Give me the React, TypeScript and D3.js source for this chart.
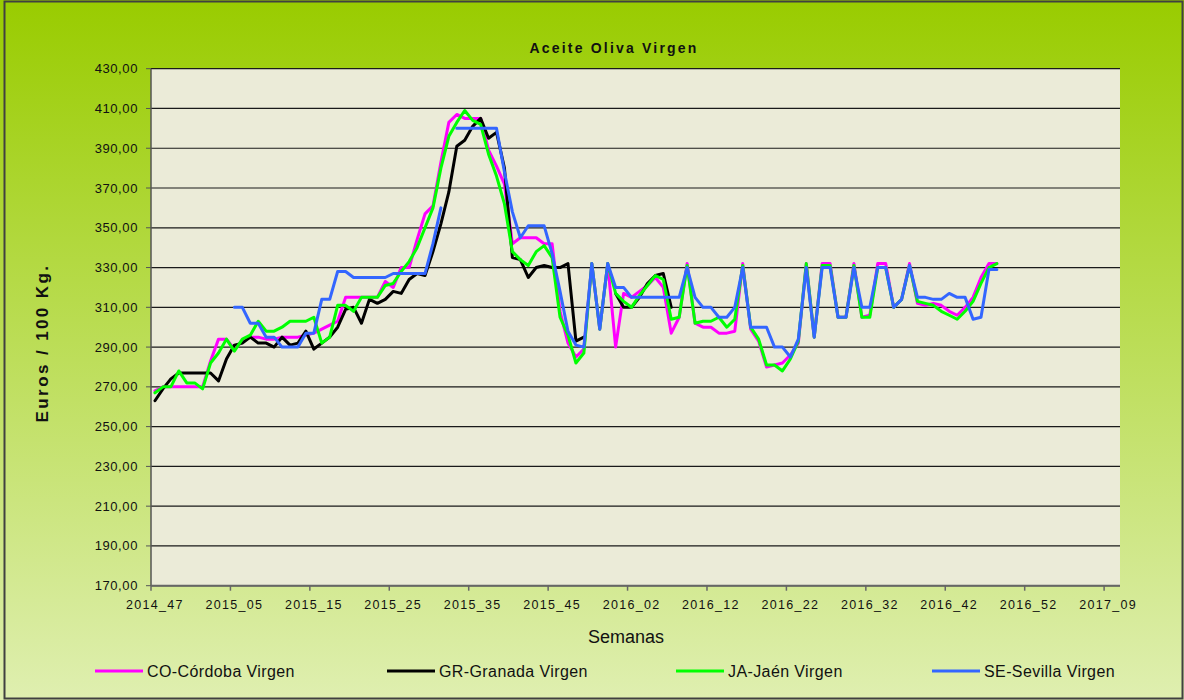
import React from 'react';
import * as d3 from 'd3';

// ---------- data ----------
const weekLabels = [
  '2014_47', '2015_05', '2015_15', '2015_25', '2015_35', '2015_45', '2016_02',
  '2016_12', '2016_22', '2016_32', '2016_42', '2016_52', '2017_09',
];
const categoryCount = 122;
const yTickValues = [170, 190, 210, 230, 250, 270, 290, 310, 330, 350, 370, 390, 410, 430];

const N = null;
const cordoba: (number | null)[] = [
  268, 270, 270, 270, 270, 270, 270, 283, 294, 294,
  289, 293, 295, 295, 294, 294, 295, 295, 295, 296,
  297, 299, 301, 303, 315, 315, 315, 315, 315, 323,
  320, 330, 330, 344, 357, 361, 383, 403, 407, 405,
  405, 405, 389, 381, 372, 342, 345, 345, 345, 342,
  342, 308, 292, 285, 289, 332, 299, 332, 290, 317,
  315, 318, 321, 325, 320, 297, 305, 332, 302, 300,
  300, 297, 297, 298, 332, 299, 293, 280, 281, 282,
  286, 292, 332, 295, 332, 332, 305, 305, 332, 305,
  306, 332, 332, 310, 314, 332, 312, 311, 312, 311,
  308, 306, 310, 315, 325, 332, 332,
];
const granada: (number | null)[] = [
  263, 269, 274, 277, 277, 277, 277, 277, 273, 284,
  291, 292, 295, 292, 292, 290, 295, 291, 292, 298,
  289, 292, 295, 300, 309, 310, 302, 314, 312, 314,
  318, 317, 324, 327, 326, 338, 352, 368, 391, 394,
  401, 405, 395, 398, 380, 335, 334, 325, 330, 331,
  330, 330, 332, 293, 295, N, N, N, 317, 310,
  310, 315, 322, 326, 327, 310,
];
const jaen: (number | null)[] = [
  267, 270, 270, 278, 272, 272, 269, 282, 287, 294,
  288, 294, 296, 303, 298, 298, 300, 303, 303, 303,
  305, 292, 295, 311, 311, 308, 315, 315, 315, 321,
  322, 328, 333, 340, 350, 360, 380, 396, 403, 409,
  404, 402, 387, 376, 362, 338, 334, 331, 338, 341,
  335, 305, 296, 282, 287, 332, 299, 332, 317, 313,
  310, 316, 321, 326, 324, 304, 305, 331, 302, 303,
  303, 305, 300, 304, 331, 300, 294, 281, 281, 278,
  284, 293, 332, 295, 331, 331, 305, 305, 331, 305,
  305, 330, 330, 310, 314, 331, 313, 312, 311, 308,
  306, 304, 308, 313, 322, 330, 332,
];
const sevilla: (number | null)[] = [
  N, N, N, N, N, N, N, N, N, N,
  310, 310, 302, 302, 295, 295, 290, 290, 290, 297,
  297, 314, 314, 328, 328, 325, 325, 325, 325, 325,
  327, 327, 327, 327, 327, 342, 360, N, 400, 400,
  400, 400, 400, 400, 378, 358, 345, 351, 351, 351,
  337, 318, 298, 291, 290, 332, 299, 332, 320, 320,
  315, 315, 315, 315, 315, 315, 315, 330, 315, 310,
  310, 305, 305, 310, 330, 300, 300, 300, 290, 290,
  285, 294, 330, 295, 330, 330, 305, 305, 330, 310,
  310, 330, 330, 310, 314, 331, 315, 315, 314, 314,
  317, 315, 315, 304, 305, 329, 329,
];

const seriesNames = ['CO-Córdoba Virgen', 'GR-Granada Virgen', 'JA-Jaén Virgen', 'SE-Sevilla Virgen'];
const seriesColors = ['#FF00FF', '#000000', '#00FF00', '#3366FF'];
const seriesData = [cordoba, granada, jaen, sevilla];

const FONT = '"Liberation Sans", Arial, sans-serif';

export default function App() {
  const W = 1184;
  const H = 700;
  const left = 151;
  const right = 1120;
  const top = 68.7;
  const bottom = 585.7;

  const x = d3.scaleBand<number>().domain(d3.range(categoryCount)).range([left, right]).padding(0);
  const bw = x.bandwidth();
  const cx = (i: number) => (x(i) as number) + bw / 2;
  const y = d3.scaleLinear().domain([170, 430]).range([bottom, top]);
  const fmt = (v: number) => d3.format('.2f')(v).replace('.', ',');

  const lineGen = d3
    .line<number | null>()
    .defined((d) => d != null)
    .x((_d, i) => cx(i))
    .y((d) => y(d as number));

  const legendX = [95, 387, 676, 932];

  return (
    <svg width={W} height={H} style={{ position: 'absolute', left: 0, top: 0 }} fontFamily={FONT}>
      <defs>
        <linearGradient id="bg" x1="0" y1="0" x2="0" y2="1">
          <stop offset="0" stopColor="#99CC00" />
          <stop offset="1" stopColor="#DFEFB0" />
        </linearGradient>
      </defs>
      <rect x={0} y={0} width={W} height={H} fill="url(#bg)" />
      <rect x={4.5} y={1.5} width={W - 6} height={H - 3} fill="none" stroke="#404040" strokeWidth={2} />

      {/* plot area */}
      <rect x={left} y={top} width={right - left} height={bottom - top} fill="#EBEBD8" />
      {yTickValues.map((v) => (
        <line key={'g' + v} x1={left} x2={right} y1={y(v)} y2={y(v)} stroke="#1a1a1a" strokeWidth={1.2} />
      ))}
      {/* axes */}
      <line x1={left} x2={left} y1={top} y2={bottom} stroke="#555" strokeWidth={1.5} />
      <line x1={left} x2={right} y1={bottom} y2={bottom} stroke="#666" strokeWidth={2} />
      {yTickValues.map((v) => (
        <g key={'yt' + v}>
          <line x1={left - 5} x2={left} y1={y(v)} y2={y(v)} stroke="#555" strokeWidth={1} />
          <text x={138} y={y(v)} dy="0.35em" textAnchor="end" fontSize={13} letterSpacing={0.6} fill="#111">
            {fmt(v)}
          </text>
        </g>
      ))}
      {weekLabels.map((lab, k) => {
        const i = k * 10;
        const tx = x(i) as number;
        return (
          <g key={'xt' + lab}>
            <line x1={tx} x2={tx} y1={bottom} y2={bottom + 5} stroke="#666" strokeWidth={1.5} />
            <text x={tx + bw / 2} y={609} textAnchor="middle" fontSize={12.5} letterSpacing={1.3} fill="#111">
              {lab}
            </text>
          </g>
        );
      })}

      {/* series */}
      {seriesData.map((arr, s) => (
        <path
          key={'s' + s}
          d={lineGen(arr) || ''}
          fill="none"
          stroke={seriesColors[s]}
          strokeWidth={3}
          strokeLinejoin="round"
          strokeLinecap="round"
        />
      ))}

      {/* titles */}
      <text x={614} y={53} textAnchor="middle" fontSize={14} fontWeight="bold" letterSpacing={2.2} fill="#111">
        Aceite Oliva Virgen
      </text>
      <text
        transform={`translate(48,343) rotate(-90)`}
        textAnchor="middle"
        fontSize={17}
        fontWeight="bold"
        letterSpacing={2.4}
        fill="#111"
      >
        Euros / 100 Kg.
      </text>
      <text x={626} y={643} textAnchor="middle" fontSize={18} fill="#111">
        Semanas
      </text>

      {/* legend */}
      {seriesNames.map((name, s) => (
        <g key={'lg' + s}>
          <line x1={legendX[s]} x2={legendX[s] + 48} y1={671} y2={671} stroke={seriesColors[s]} strokeWidth={3} />
          <text x={legendX[s] + 52} y={671} dy="0.35em" fontSize={16} letterSpacing={0.4} fill="#111">
            {name}
          </text>
        </g>
      ))}
    </svg>
  );
}
